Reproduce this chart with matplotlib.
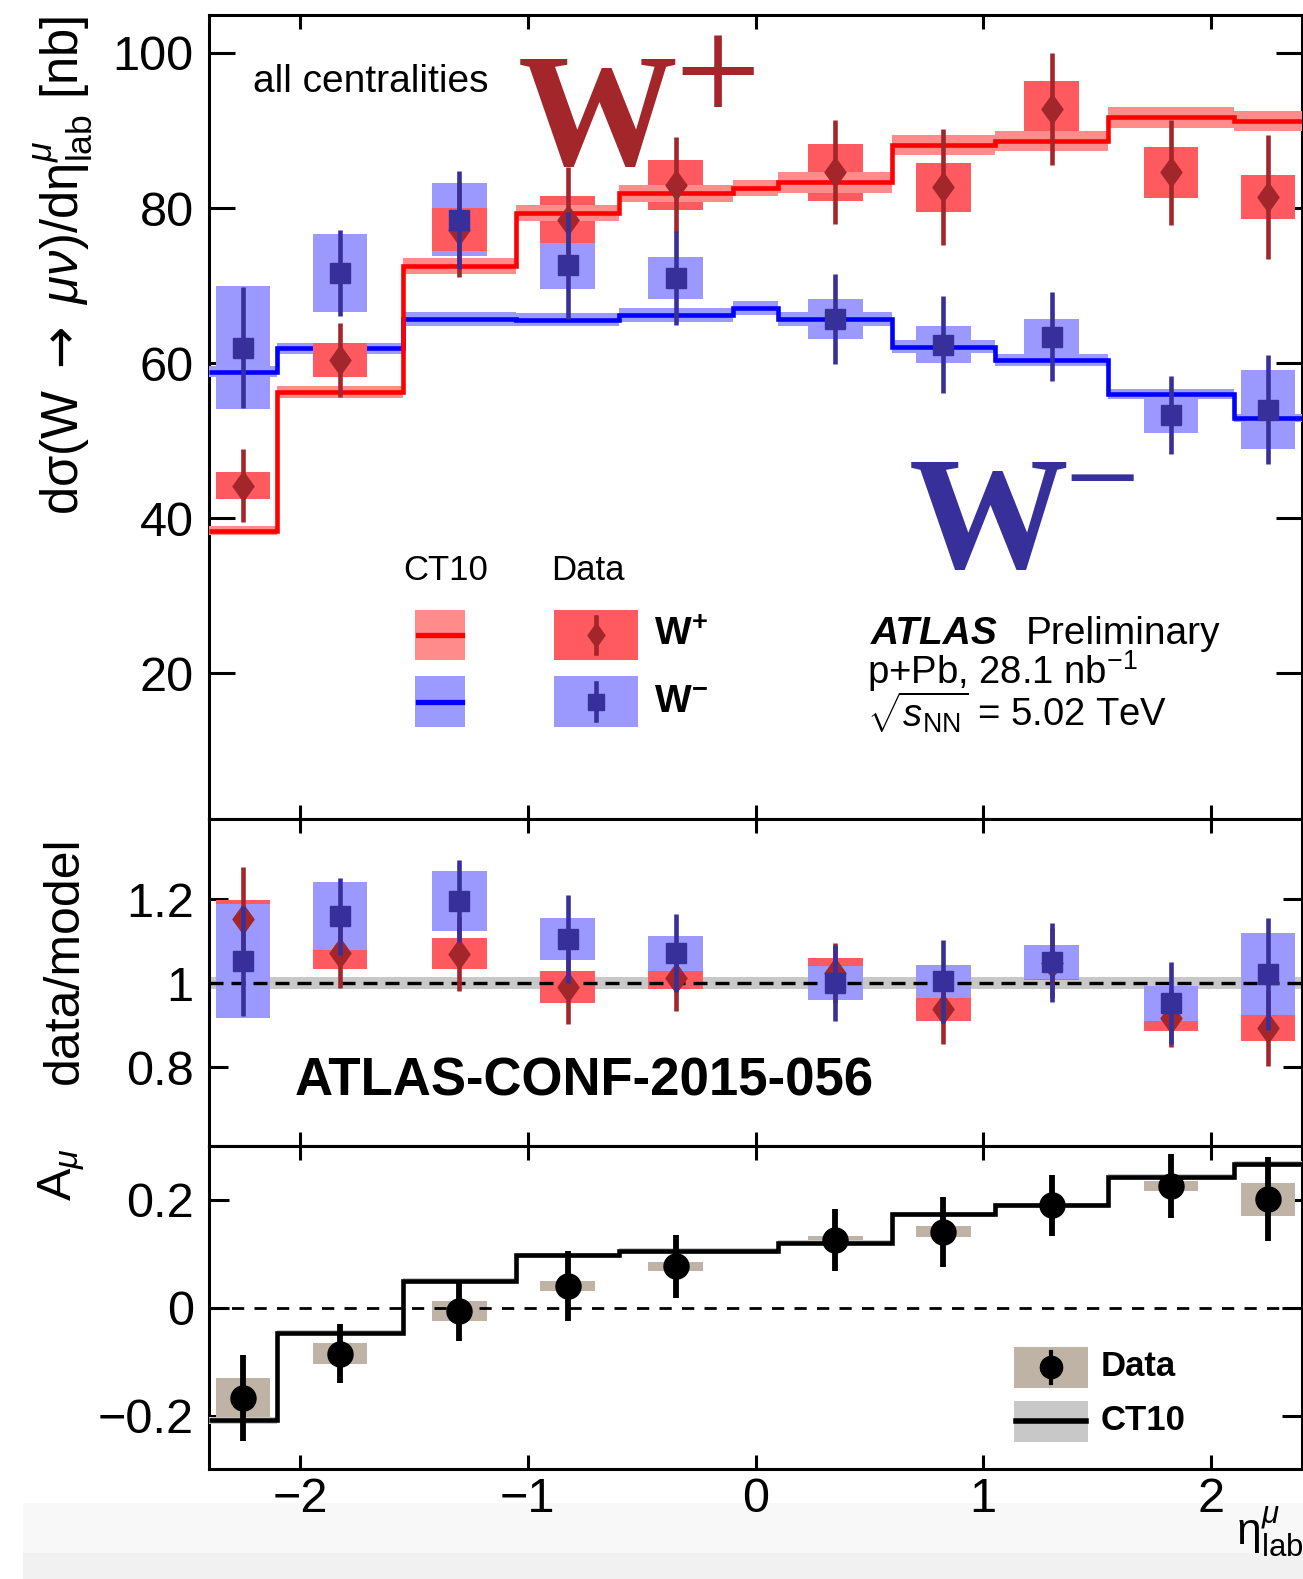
import matplotlib
matplotlib.use('Agg')
import matplotlib.pyplot as plt
import numpy as np
from matplotlib.patches import Rectangle
from matplotlib.lines import Line2D
from matplotlib.path import Path

plt.rcParams['font.family'] = ['Liberation Sans', 'DejaVu Sans']
plt.rcParams['mathtext.fontset'] = 'custom'
plt.rcParams['mathtext.rm'] = 'Liberation Sans'
plt.rcParams['mathtext.it'] = 'Liberation Sans:italic'
plt.rcParams['mathtext.bf'] = 'Liberation Sans:bold'
plt.rcParams['mathtext.sf'] = 'DejaVu Sans'

# ---- data ----
eta_edges = [-2.4, -2.1, -1.55, -1.05, -0.6, -0.1, 0.1, 0.6, 1.05, 1.55, 2.1, 2.4]
eta_pts = [-2.25, -1.825, -1.3, -0.825, -0.35, 0.35, 0.825, 1.3, 1.825, 2.25]

# W+ cross sections [nb]
wp_val = [44.2, 60.4, 77.2, 78.5, 83.0, 84.6, 82.7, 92.8, 84.6, 81.4]
wp_sys = [1.7, 2.2, 2.75, 3.0, 3.2, 3.7, 3.15, 3.6, 3.3, 2.85]
wp_err = [4.7, 4.75, 6.1, 6.8, 6.15, 6.7, 7.5, 7.2, 6.8, 8.0]
wp_ct10 = [38.4, 56.3, 72.5, 79.4, 81.9, 82.6, 83.3, 88.1, 88.7, 91.7, 91.2]
wp_band = [0.6, 0.75, 1.0, 1.05, 1.1, 1.05, 1.3, 1.3, 1.3, 1.35, 1.3]

# W- cross sections [nb]
wm_val = [62.0, 71.6, 78.5, 72.6, 71.0, 65.7, 62.4, 63.4, 53.3, 54.0]
wm_sys = [7.9, 5.0, 4.7, 3.1, 2.7, 2.55, 2.35, 2.35, 2.3, 5.05]
wm_err = [7.8, 5.55, 6.3, 6.9, 6.1, 5.85, 6.2, 5.75, 5.05, 7.0]
wm_ct10 = [58.9, 61.9, 65.7, 65.6, 66.2, 67.1, 65.7, 62.1, 60.4, 56.0, 52.9]
wm_band = [0.75, 0.75, 0.95, 0.85, 0.95, 0.95, 0.9, 0.85, 0.8, 0.65, 0.55]

# data/model
rp_val = [1.152, 1.071, 1.070, 0.990, 1.013, 1.024, 0.939, 1.048, 0.917, 0.893]
rp_sys = [0.046, 0.038, 0.037, 0.038, 0.026, 0.037, 0.030, 0.040, 0.030, 0.031]
rp_err = [0.124, 0.083, 0.088, 0.087, 0.080, 0.071, 0.084, 0.083, 0.068, 0.090]
rm_val = [1.052, 1.159, 1.196, 1.106, 1.071, 1.000, 1.004, 1.050, 0.952, 1.021]
rm_sys = [0.136, 0.081, 0.072, 0.050, 0.042, 0.040, 0.039, 0.041, 0.042, 0.098]
rm_err = [0.131, 0.091, 0.097, 0.105, 0.093, 0.090, 0.098, 0.094, 0.098, 0.133]
ratio_band = [0.986, 1.014]

# muon charge asymmetry
asym_val = [-0.167, -0.085, -0.006, 0.040, 0.077, 0.126, 0.141, 0.190, 0.226, 0.201]
asym_sys = [0.036, 0.020, 0.018, 0.009, 0.008, 0.007, 0.010, 0.005, 0.009, 0.030]
asym_err = [0.080, 0.055, 0.055, 0.065, 0.058, 0.058, 0.065, 0.057, 0.060, 0.078]
asym_ct10 = [-0.209, -0.046, 0.050, 0.097, 0.105, 0.105, 0.121, 0.173, 0.190, 0.243, 0.267]
asym_band = [0.006, 0.005, 0.005, 0.005, 0.005, 0.005, 0.005, 0.005, 0.005, 0.006, 0.006]

xticks = [-2, -1, 0, 1, 2]
xtick_labels = ['\u22122', '\u22121', '0', '1', '2']
top_yticks = [20, 40, 60, 80, 100]
top_ylabels = ['20', '40', '60', '80', '100']
ratio_yticks = [0.8, 1.0, 1.2]
ratio_ylabels = ['0.8', '1', '1.2']
asym_yticks = [-0.2, 0.0, 0.2]
asym_ylabels = ['\u22120.2', '0', '0.2']

# ---- colours ----
RED_LINE, RED_BAND, RED_BOX, RED_MK = '#ff0000', '#ff8b8b', '#ff5a5f', '#a3262b'
BLUE_LINE, BLUE_BAND, BLUE_BOX, BLUE_MK = '#0000ff', '#9a9aff', '#9b99fe', '#37309a'
TAN, GRAY = '#bfb3a6', '#c8c8c8'
BOXW = 0.24

W, H = 1303, 1579


def fx(px):
    return px / W


def fy(py):
    return 1 - py / H


diamond = Path([(0, 1), (0.72, 0), (0, -1), (-0.72, 0), (0, 1)],
               [Path.MOVETO, Path.LINETO, Path.LINETO, Path.LINETO, Path.CLOSEPOLY])

fig = plt.figure(figsize=(W / 100, H / 100), dpi=100)
fig.patches.append(Rectangle((fx(23), 0), 1, (H - 1503) / H, transform=fig.transFigure,
                             color='#f8f8f8', lw=0, zorder=-2))
fig.patches.append(Rectangle((fx(23), 0), 1, (H - 1553) / H, transform=fig.transFigure,
                             color='#f1f1f1', lw=0, zorder=-1))

ax1 = fig.add_axes([fx(209), fy(819), 1093 / W, 804 / H])
ax2 = fig.add_axes([fx(209), fy(1146), 1093 / W, 327 / H])
ax3 = fig.add_axes([fx(209), fy(1469), 1093 / W, 323 / H])


def box(ax, val, sys, color, z):
    val, sys = np.array(val), np.array(sys)
    ax.bar(eta_pts, 2 * sys, width=BOXW, bottom=val - sys, color=color, lw=0, zorder=z)


def band(ax, model, half, color, z):
    model, half = np.array(model), np.array(half)
    ax.stairs(model + half, eta_edges, baseline=model - half, fill=True, color=color, lw=0, zorder=z)


def points(ax, val, err, color, marker, ms, elw, z):
    ax.errorbar(eta_pts, val, yerr=err, fmt='none', ecolor=color, elinewidth=elw, capsize=0, zorder=z)
    ax.plot(eta_pts, val, ls='none', marker=marker, ms=ms, color=color, mec=color, zorder=z + 0.1)


# ---- top panel ----
box(ax1, wm_val, wm_sys, BLUE_BOX, 2)
band(ax1, wm_ct10, wm_band, BLUE_BAND, 3)
ax1.stairs(wm_ct10, eta_edges, baseline=None, color=BLUE_LINE, lw=3.3, zorder=3.5)
box(ax1, wp_val, wp_sys, RED_BOX, 4)
band(ax1, wp_ct10, wp_band, RED_BAND, 5)
ax1.stairs(wp_ct10, eta_edges, baseline=None, color=RED_LINE, lw=3.3, zorder=5.5)
points(ax1, wp_val, wp_err, RED_MK, diamond, 21, 3.3, 6)
points(ax1, wm_val, wm_err, BLUE_MK, 's', 14.5, 3.3, 7)
ax1.set_ylim(1.2, 104.9)
ax1.set_yticks(top_yticks)
ax1.set_yticklabels(top_ylabels)

# ---- ratio panel ----
ax2.axhspan(ratio_band[0], ratio_band[1], color=GRAY, lw=0, zorder=1)
box(ax2, rp_val, rp_sys, RED_BOX, 2)
box(ax2, rm_val, rm_sys, BLUE_BOX, 3)
ax2.axhline(1.0, color='k', lw=2.4, ls=(0, (4.2, 2.4)), zorder=4)
points(ax2, rp_val, rp_err, RED_MK, diamond, 21, 3.3, 5)
points(ax2, rm_val, rm_err, BLUE_MK, 's', 14.5, 3.3, 7)
ax2.set_ylim(0.612, 1.391)
ax2.set_yticks(ratio_yticks)
ax2.set_yticklabels(ratio_ylabels)

# ---- asymmetry panel ----
box(ax3, asym_val, asym_sys, TAN, 2)
band(ax3, asym_ct10, asym_band, GRAY, 3)
ax3.stairs(asym_ct10, eta_edges, baseline=None, color='k', lw=3.3, zorder=4)
ax3.axhline(0.0, color='k', lw=2.0, ls=(0, (4.4, 3.7)), zorder=4)
points(ax3, asym_val, asym_err, 'k', 'o', 18, 4.2, 5)
ax3.set_ylim(-0.299, 0.300)
ax3.set_yticks(asym_yticks)
ax3.set_yticklabels(asym_ylabels)

for ax, ylen in [(ax1, 18.5), (ax2, 13.5), (ax3, 14.5)]:
    ax.set_xlim(-2.4, 2.4)
    ax.set_xticks(xticks)
    ax.set_xticklabels(xtick_labels)
    for s in ax.spines.values():
        s.set_linewidth(2.2)
    ax.tick_params(axis='both', direction='in', top=True, right=True, width=2.2,
                   labelsize=35, pad=11)
    ax.tick_params(axis='y', length=ylen)
    ax.tick_params(axis='x', length=10, pad=6)
    ax.minorticks_off()
ax1.tick_params(labelbottom=False)
ax2.tick_params(labelbottom=False)

# ---- axis titles ----
fig.text(fx(78), fy(16), 'd\u03c3(W ' + r'$\mathsf{\rightarrow}$ $\mu\nu$' + ')/d\u03b7'
         + r'$^{\mu}_{\rm lab}$ [nb]',
         rotation=90, rotation_mode='anchor', ha='right', va='baseline', fontsize=36.5)
fig.text(fx(78), fy(836), 'data/model', rotation=90, rotation_mode='anchor',
         ha='right', va='baseline', fontsize=36)
fig.text(fx(71), fy(1148), r'A$_{\mu}$', rotation=90, rotation_mode='anchor',
         ha='right', va='baseline', fontsize=35)
fig.text(fx(1236), fy(1545), '\u03b7' + r'$^{\mu}_{\rm lab}$', ha='left', va='baseline', fontsize=32)

# ---- annotations ----
fig.text(fx(253), fy(92), 'all centralities', fontsize=28, ha='left', va='baseline')
fig.text(fx(518), fy(165), 'W', family=['Liberation Serif'], weight='bold', fontsize=115,
         color=RED_MK, ha='left', va='baseline')
fig.text(fx(674), fy(122), '+', family=['Liberation Serif'], fontsize=110,
         color=RED_MK, ha='left', va='baseline')
fig.text(fx(909), fy(568), 'W', family=['Liberation Serif'], weight='bold', fontsize=115,
         color=BLUE_MK, ha='left', va='baseline')
fig.text(fx(1064), fy(522), '\u2212', family=['Liberation Serif'], fontsize=96,
         color=BLUE_MK, ha='left', va='baseline')

fig.text(fx(871), fy(644), 'ATLAS', fontsize=28, weight='bold', style='italic',
         ha='left', va='baseline')
fig.text(fx(1026), fy(644), 'Preliminary', fontsize=28, ha='left', va='baseline')
fig.text(fx(867), fy(684), r'p+Pb, 28.1 nb$^{-1}$', fontsize=27.5, ha='left', va='baseline')
fig.text(fx(867), fy(727), r'$\sqrt{s_{\rm NN}}$ = 5.02 TeV', fontsize=27.5,
         ha='left', va='baseline')
fig.text(fx(295), fy(1095), 'ATLAS-CONF-2015-056', fontsize=38, weight='bold',
         ha='left', va='baseline')

# ---- legend, top panel ----
fig.text(fx(403), fy(580), 'CT10', fontsize=25, ha='left', va='baseline')
fig.text(fx(551), fy(580), 'Data', fontsize=25, ha='left', va='baseline')
for (y0, y1, bcol, lcol, dcol, mcol, mk, ms, lab) in [
        (610, 660, RED_BAND, RED_LINE, RED_BOX, RED_MK, diamond, 17, r'$\mathbf{W^{+}}$'),
        (676, 727, BLUE_BAND, BLUE_LINE, BLUE_BOX, BLUE_MK, 's', 11, r'$\mathbf{W^{-}}$')]:
    yc = (y0 + y1) / 2
    fig.add_artist(Rectangle((fx(415), fy(y1)), 50 / W, (y1 - y0) / H,
                             transform=fig.transFigure, color=bcol, lw=0))
    fig.add_artist(Line2D([fx(418), fx(462)], [fy(yc), fy(yc)], transform=fig.transFigure,
                          color=lcol, lw=3.8))
    fig.add_artist(Rectangle((fx(554), fy(y1)), 84 / W, (y1 - y0) / H,
                             transform=fig.transFigure, color=dcol, lw=0))
    fig.add_artist(Line2D([fx(596), fx(596)], [fy(y0 + 7), fy(y1 - 7)], transform=fig.transFigure,
                          color=mcol, lw=3.3))
    fig.add_artist(Line2D([fx(596)], [fy(yc)], transform=fig.transFigure, ls='none',
                          marker=mk, ms=ms, color=mcol))
    fig.text(fx(654), fy(yc), lab, fontsize=28, ha='left', va='center')

# ---- legend, asymmetry panel ----
fig.add_artist(Rectangle((fx(1014), fy(1388)), 74 / W, 41 / H, transform=fig.transFigure,
                         color=TAN, lw=0))
fig.add_artist(Line2D([fx(1051), fx(1051)], [fy(1352), fy(1383)], transform=fig.transFigure,
                      color='k', lw=3))
fig.add_artist(Line2D([fx(1051)], [fy(1367)], transform=fig.transFigure, ls='none',
                      marker='o', ms=16, color='k'))
fig.add_artist(Rectangle((fx(1014), fy(1442)), 74 / W, 41 / H, transform=fig.transFigure,
                         color=GRAY, lw=0))
fig.add_artist(Line2D([fx(1016), fx(1086)], [fy(1421), fy(1421)], transform=fig.transFigure,
                      color='k', lw=4))
fig.text(fx(1101), fy(1367), 'Data', fontsize=25, weight='bold', ha='left', va='center')
fig.text(fx(1101), fy(1421), 'CT10', fontsize=25, weight='bold', ha='left', va='center')

fig.savefig('out.png', dpi=100)
